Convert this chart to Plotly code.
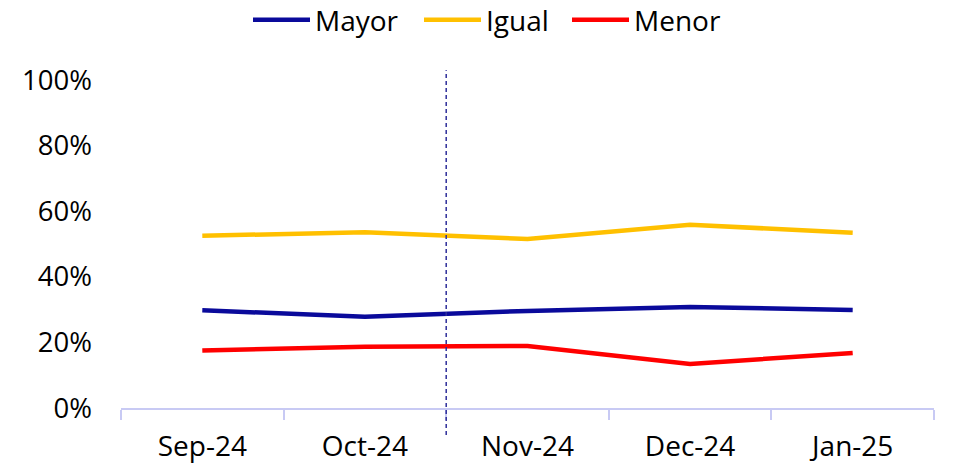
import plotly.graph_objects as go

categories = ["Sep-24", "Oct-24", "Nov-24", "Dec-24", "Jan-25"]
mayor = [29.8, 27.8, 29.6, 30.8, 29.9]
igual = [52.5, 53.6, 51.5, 55.9, 53.4]
menor = [17.5, 18.7, 18.9, 13.4, 16.8]
y_ticks = [0, 20, 40, 60, 80, 100]
y_tick_labels = ["0%", "20%", "40%", "60%", "80%", "100%"]

series = [("Mayor", mayor, "#0A0A9B"), ("Igual", igual, "#FFC000"), ("Menor", menor, "#FF0000")]
legend_ids = ["legend", "legend2", "legend3"]
legend_left_px = [248, 419, 567]

W, H = 959, 464
FONT = "Open Sans"
fig = go.Figure()
for (name, vals, col), lg in zip(series, legend_ids):
    fig.add_trace(go.Scatter(x=categories, y=vals, name=name, mode="lines", legend=lg,
                             line=dict(color=col, width=4.5)))

# dashed vertical separator between Oct-24 and Nov-24
fig.add_shape(type="line", xref="x", yref="paper", x0=1.5, x1=1.5, y0=-0.082, y1=1.03,
              line=dict(color="#2E2E9A", width=1.5, dash="4px,3px"))

legend_style = dict(orientation="h", xref="container", yref="container", xanchor="left",
                    y=1 - 20 / H, yanchor="middle", font=dict(size=28, family=FONT, color="black"),
                    itemwidth=57, bgcolor="rgba(0,0,0,0)")
legends = {lg: dict(legend_style, x=px / W) for lg, px in zip(legend_ids, legend_left_px)}

fig.update_layout(
    width=W, height=H,
    margin=dict(l=121, r=25, t=80, b=56),
    paper_bgcolor="white", plot_bgcolor="white",
    font=dict(family=FONT, size=27, color="black"),
    showlegend=True,
    xaxis=dict(type="category", range=[-0.5, 4.5], showgrid=False, zeroline=False,
               showline=True, linecolor="#C8CAF4", linewidth=2, automargin=False,
               ticks="outside", tickson="boundaries", ticklen=10, tickcolor="#C8CAF4", tickwidth=2,
               ticklabelstandoff=12, tickfont=dict(size=28)),
    yaxis=dict(range=[0, 100], tickvals=y_ticks, ticktext=y_tick_labels, showgrid=False,
               zeroline=False, showline=False, ticks="", ticklabelstandoff=28, automargin=False,
               tickfont=dict(size=27.5)),
    **legends,
)

fig.write_html("out.html", config={"displayModeBar": False},
               post_script="document.body.style.margin='0';")
